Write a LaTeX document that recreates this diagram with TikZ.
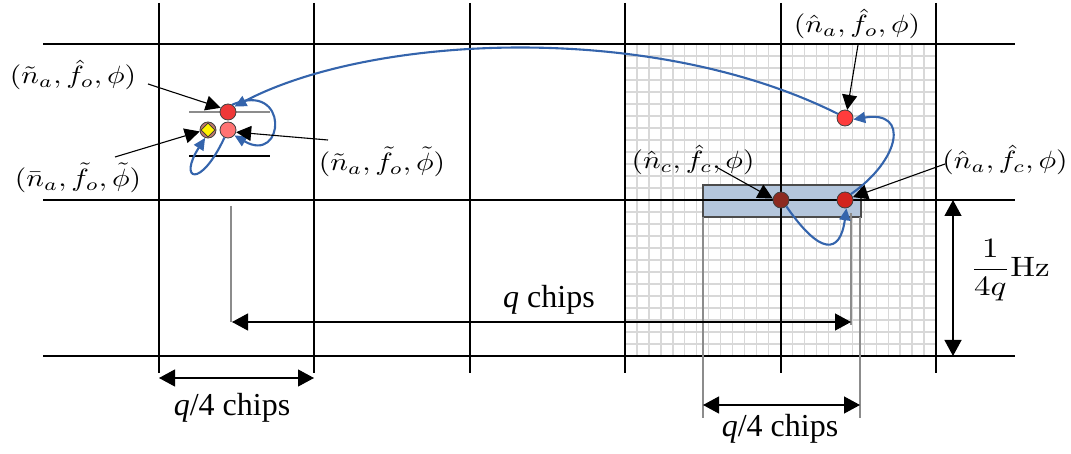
\documentclass[tikz,border=0pt]{standalone}
\usepackage{fontspec}
\usepackage{graphicx}
\newfontfamily\tnr{Liberation Serif}
\usetikzlibrary{arrows.meta,shapes.geometric}
\definecolor{pblue}{RGB}{52,100,172}
\definecolor{finegray}{RGB}{216,216,216}
\definecolor{guidegray}{RGB}{140,140,140}
\definecolor{bandfill}{RGB}{180,198,220}
\definecolor{redA}{RGB}{238,56,56}
\definecolor{redB}{RGB}{255,60,60}
\definecolor{redC}{RGB}{210,36,30}
\definecolor{darkred}{RGB}{140,42,32}
\definecolor{pinkA}{RGB}{255,115,115}
\definecolor{salmon}{RGB}{190,120,105}
\newcommand{\ML}[1]{\scalebox{2.95}[2.5]{$#1$}}
\begin{document}
\begin{tikzpicture}[x=1pt,y=-1pt,
  major/.style={line width=1.8pt, black},
  fine/.style={line width=1.3pt, finegray},
  guide/.style={line width=1.8pt, guidegray},
  bluearc/.style={line width=2.1pt, pblue, -{Triangle[length=12pt,width=11pt]}},
  lblarrow/.style={line width=1.1pt, black, -{Triangle[length=15pt,width=15pt]}},
  dim/.style={line width=1.2pt, black, {Triangle[length=16pt,width=17pt]}-{Triangle[length=16pt,width=17pt]}},
  dot/.style={circle, draw=black!75, line width=0.8pt, minimum size=16pt, inner sep=0pt},
  chipsfont/.style={font=\tnr\fontsize{32}{36}\selectfont, inner sep=0pt}
]
\useasboundingbox (0,0) rectangle (1071,454);
% fine grid
\foreach \k in {1,...,25}{
  \draw[fine] ({625+\k*311/26},44) -- ({625+\k*311/26},356);
  \draw[fine] (625,{44+\k*312/26}) -- (936,{44+\k*312/26});
}
% band
\node[draw=black!70, line width=1.2pt, fill=bandfill, minimum width=158pt, minimum height=32pt, inner sep=0pt] (band) at (782,201) {};
% major grid
\foreach \yy in {44,200,356}{ \draw[major] (43,\yy) -- (1015,\yy); }
\foreach \xx in {159,314,470,625,781,936}{ \draw[major] (\xx,3) -- (\xx,373); }
% guides
\draw[guide] (231,206) -- (231,322);
\draw[guide] (851,213) -- (851,325);
\draw[guide] (703,217) -- (703,418);
\draw[guide] (860,217) -- (860,418);
% left cluster bars
\draw[line width=1.5pt, guidegray] (189,112) -- (270,112);
\draw[line width=1.2pt, black] (189,156) -- (270,156);
% dots
\node[dot, fill=redA] (ctl) at (228,112) {};
\node[dot, fill=pinkA] (cpk) at (228,130) {};
\node[dot, fill=salmon] (cdm) at (208,130) {};
\node[diamond, draw=black!80, line width=0.6pt, fill=yellow, minimum width=14pt, minimum height=14pt, inner sep=0pt] (dmd) at (208,130) {};
\node[dot, fill=redB] (crt) at (845,118) {};
\node[dot, fill=darkred] (cdk) at (781,200) {};
\node[dot, fill=redC] (crd) at (845,200) {};
% blue arcs
\draw[bluearc] (crt.150) .. controls (650,20) and (370,35) .. (ctl.40);
\draw[bluearc] (ctl.60) .. controls (290,80) and (285,165) .. (cpk.-40);
\draw[bluearc] (cpk.-115) .. controls (200,190) and (178,180) .. (cdm.-110);
\draw[bluearc] (cdk.-50) .. controls (820,255) and (840,255) .. (crd.-80);
\draw[bluearc] (crd.45) .. controls (900,160) and (910,110) .. (crt.-10);
% labels
\node (L1) at (73,75) {\ML{(\tilde n_a,\hat f_o,\phi)}};
\node (L2) at (78,178) {\ML{(\bar n_a,\tilde f_o,\tilde\phi)}};
\node (L3) at (382,162) {\ML{(\tilde n_a,\tilde f_o,\tilde\phi)}};
\node (R1) at (857,24) {\ML{(\hat n_a,\hat f_o,\phi)}};
\node (R2) at (693,160) {\ML{(\hat n_c,\hat f_c,\phi)}};
\node (R3) at (1005,160) {\ML{(\hat n_a,\hat f_c,\phi)}};
\coordinate (L1s) at (148,84);
\coordinate (L2s) at (115,157);
\coordinate (L3s) at (328,140);
\coordinate (R1s) at (858,45);
\coordinate (R2s) at (718,168);
\coordinate (R3s) at (945,164);
\draw[lblarrow] (L1s) -- (ctl.150);
\draw[lblarrow] (L2s) -- (cdm.190);
\draw[lblarrow] (L3s) -- (cpk.-15);
\draw[lblarrow] (R1s) -- (crt.75);
\draw[lblarrow] (R2s) -- (cdk.170);
\draw[lblarrow] (R3s) -- (crd.20);
% dimensions
\coordinate (qa) at (232,322); \coordinate (qb) at (851,322);
\draw[dim] (qa) -- (qb);
\node[chipsfont] (qlbl) at (549,300) {\textit{q} chips};
\coordinate (la) at (159,378); \coordinate (lb) at (314,378);
\draw[dim] (la) -- (lb);
\node[chipsfont] (llbl) at (232,408) {\textit{q}/4 chips};
\coordinate (ra) at (703,405); \coordinate (rb) at (860,405);
\draw[dim] (ra) -- (rb);
\node[chipsfont] (rlbl) at (780,429) {\textit{q}/4 chips};
\coordinate (ha) at (953,200); \coordinate (hb) at (953,356);
\draw[dim] (ha) -- (hb);
\node (hz) at (1010,270) {\scalebox{3.3}[2.8]{$\displaystyle\frac{1}{4q}\mathrm{Hz}$}};
\end{tikzpicture}
\end{document}
